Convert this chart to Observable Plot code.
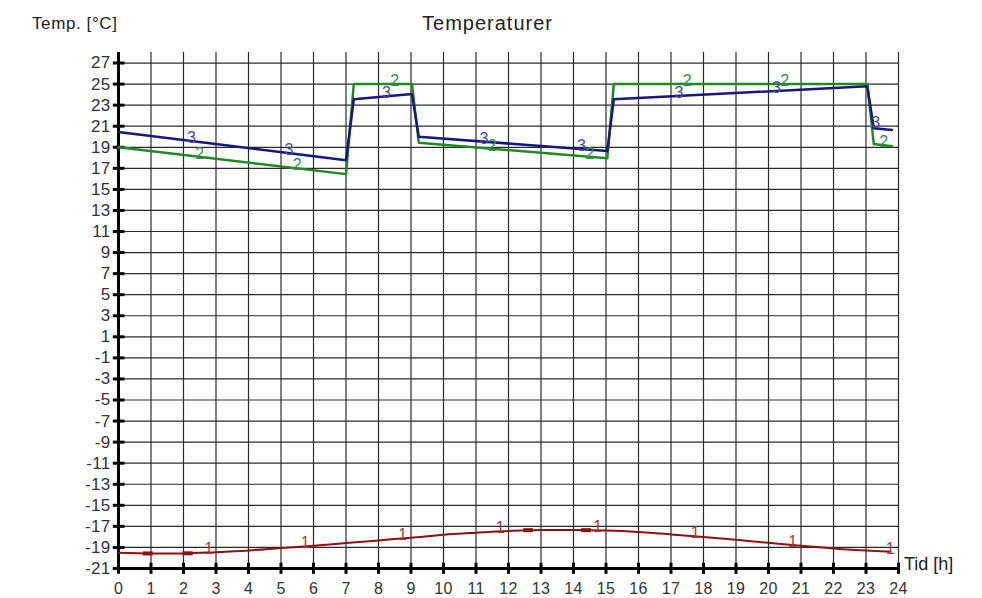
<!DOCTYPE html>
<html>
<head>
<meta charset="utf-8">
<script src="https://cdn.jsdelivr.net/npm/d3@7"></script>
<script src="https://cdn.jsdelivr.net/npm/@observablehq/plot@0.6"></script>
<style>
  html, body { margin: 0; padding: 0; background: #fff; }
  #wrap { position: relative; width: 982px; height: 598px; font-family: "Liberation Sans", Arial, sans-serif; }
  .lbl { position: absolute; color: #222; white-space: nowrap; line-height: 1.15; }
  #title { left: 0; width: 975px; top: 12px; text-align: center; font-size: 20px; letter-spacing: 1px; }
  #ylab { left: 32px; top: 14px; font-size: 17px; letter-spacing: 0.6px; }
  #xlab { left: 904px; top: 554px; font-size: 18px; }
</style>
</head>
<body>
<div id="wrap">
  <div id="chart"></div>
  <div class="lbl" id="title">Temperaturer</div>
  <div class="lbl" id="ylab">Temp. [°C]</div>
  <div class="lbl" id="xlab">Tid [h]</div>
</div>
<script>
// Tick values
const xTicks = d3.range(0, 25);
const yTicks = [27, 25, 23, 21, 19, 17, 15, 13, 11, 9, 7, 5, 3, 1, -1, -3, -5, -7, -9, -11, -13, -15, -17, -19, -21];

// Series 1: outdoor temperature (dark red)
const hours1 = [0, 1, 2, 3, 4, 5, 6, 7, 8, 9, 10, 11, 12, 13, 14, 15, 16, 17, 18, 19, 20, 21, 22, 23, 23.75];
const temp1 = [-19.5, -19.57, -19.57, -19.45, -19.29, -19.06, -18.84, -18.59, -18.33, -18.08, -17.79, -17.6, -17.44, -17.35, -17.35, -17.4, -17.54, -17.76, -18.0, -18.27, -18.56, -18.84, -19.1, -19.29, -19.41];

// Series 2 (green)
const hours2 = [0, 7.0, 7.24, 9.03, 9.24, 15.04, 15.24, 23.04, 23.24, 23.8];
const temp2 = [19.0, 16.45, 25.0, 25.0, 19.44, 17.95, 25.0, 25.0, 19.3, 19.1];

// Series 3 (blue)
const hours3 = [0, 7.0, 7.24, 9.03, 9.24, 15.04, 15.24, 23.04, 23.24, 23.8];
const temp3 = [20.45, 17.77, 23.55, 24.05, 20.0, 18.65, 23.55, 24.8, 20.8, 20.65];

// Curve labels (position along curve)
const lab1H = [2.78, 5.75, 8.75, 11.75, 14.75, 17.75, 20.75, 23.75];
const lab1T = [-19.47, -18.9, -18.14, -17.48, -17.38, -17.93, -18.77, -19.41];
const lab2H = [2.5, 5.5, 8.5, 11.5, 14.5, 17.5, 20.5, 23.55];
const lab2T = [18.09, 17.0, 25.0, 18.86, 18.09, 25.0, 25.0, 19.2];
const lab3H = [2.25, 5.25, 8.25, 11.25, 14.25, 17.25, 20.25, 23.3];
const lab3T = [19.59, 18.44, 23.83, 19.53, 18.83, 23.87, 24.35, 21.0];

// Small markers on series 1
const markX1 = [0.76, 1.99, 12.47, 14.25];
const markX2 = [1.07, 2.3, 12.77, 14.55];
const markT = [-19.57, -19.56, -17.36, -17.36];

const s1 = hours1.map((h, i) => ({h, t: temp1[i]}));
const s2 = hours2.map((h, i) => ({h, t: temp2[i]}));
const s3 = hours3.map((h, i) => ({h, t: temp3[i]}));
const l1 = lab1H.map((h, i) => ({h, t: lab1T[i]}));
const l2 = lab2H.map((h, i) => ({h, t: lab2T[i]}));
const l3 = lab3H.map((h, i) => ({h, t: lab3T[i]}));
const marks1 = markX1.map((a, i) => ({a, b: markX2[i], t: markT[i]}));

const gridColor = "#2a2a2a";
const font = "Liberation Sans, Arial, sans-serif";

const chart = Plot.plot({
  width: 982,
  height: 598,
  marginLeft: 118,
  marginRight: 84,
  marginTop: 52,
  marginBottom: 30,
  x: {domain: [0, 24], axis: null},
  y: {domain: [-21, 28], axis: null},
  style: {fontFamily: font, background: "white", letterSpacing: "0.3px"},
  marks: [
    // grid
    Plot.ruleX(xTicks, {x: d => d, y1: -21, y2: 28, stroke: gridColor, strokeWidth: 1.2}),
    Plot.ruleY(yTicks, {y: d => d, x1: 0, x2: 24, stroke: gridColor, strokeWidth: 1.2}),
    // axes
    Plot.ruleX([0], {y1: -21, y2: 28, stroke: "#000", strokeWidth: 3}),
    Plot.ruleY([-21], {x1: 0, x2: 24, stroke: "#000", strokeWidth: 3}),
    Plot.ruleY(yTicks, {y: d => d, x1: -0.16, x2: 0.2, stroke: "#000", strokeWidth: 3}),
    Plot.ruleX(xTicks, {x: d => d, y1: -21.55, y2: -20.5, stroke: "#000", strokeWidth: 3}),
    // tick labels
    Plot.text(yTicks, {x: 0, y: d => d, text: d => String(d), textAnchor: "end", dx: -8, fontSize: 17, fill: "#333"}),
    Plot.text(xTicks, {x: d => d, y: -21, text: d => String(d), dy: 20, fontSize: 16, fill: "#333"}),
    // series
    Plot.line(s1, {x: "h", y: "t", stroke: "#8e1010", strokeWidth: 2, curve: "monotone-x"}),
    Plot.ruleY(marks1, {y: "t", x1: "a", x2: "b", stroke: "#8e1010", strokeWidth: 4}),
    Plot.line(s2, {x: "h", y: "t", stroke: "#1f8a1f", strokeWidth: 2.5}),
    Plot.line(s3, {x: "h", y: "t", stroke: "#16167f", strokeWidth: 2.5}),
    // curve labels
    Plot.text(l1, {x: "h", y: "t", text: () => "1", lineAnchor: "bottom", dy: 2, fontSize: 16, fill: "#a03a3a"}),
    Plot.text(l2, {x: "h", y: "t", text: () => "2", lineAnchor: "bottom", dy: 2, fontSize: 16, fill: "#3a8a5a"}),
    Plot.text(l3, {x: "h", y: "t", text: () => "3", lineAnchor: "bottom", dy: 2, fontSize: 16, fill: "#4a4a9e"})
  ]
});
document.getElementById("chart").appendChild(chart);
</script>
</body>
</html>
